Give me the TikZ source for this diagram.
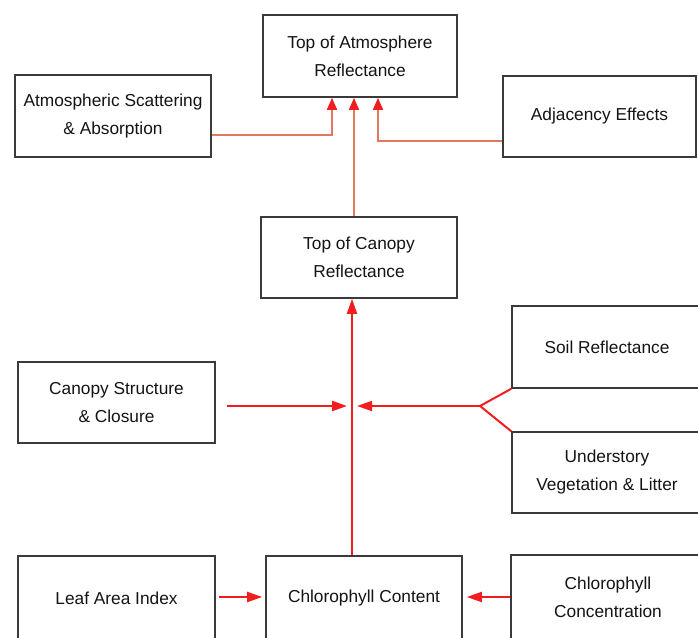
\documentclass[tikz,border=0pt]{standalone}
\usepackage{fontspec}
\setmainfont{Liberation Sans}
\usetikzlibrary{arrows.meta}
\definecolor{boxline}{HTML}{3A3A3A}
\definecolor{salmon}{HTML}{E07A5F}
\definecolor{arrred}{HTML}{F01E1E}
\begin{document}
\begin{tikzpicture}[x=1pt,y=-1pt,
  box/.style={draw=boxline, line width=1.6pt, fill=white, inner sep=0pt,
    minimum width=196pt, minimum height=82pt, align=center,
    font=\fontsize{17.3}{28}\selectfont, text=black!92},
  topconn/.style={draw=salmon, line width=1.5pt,
    -{Triangle[length=12pt,width=10pt,color=arrred,fill=arrred]}},
  redconn/.style={draw=arrred, line width=2pt,
    -{Triangle[length=15pt,width=10pt]}},
  redline/.style={draw=arrred, line width=2pt}]
\useasboundingbox (0,0) rectangle (698,637);
\clip (0,0) rectangle (698,637);
\fill[white] (0,0) rectangle (698,637);

\node[box, minimum width=194pt] (toa) at (360,56) {Top of Atmosphere\\Reflectance};
\node[box] (atm) at (113,116) {Atmospheric Scattering\\\& Absorption};
\node[box, minimum width=193pt, minimum height=81pt] (adj) at (599.5,116.5) {Adjacency Effects};
\node[box, minimum height=81pt] (toc) at (359,257.5) {Top of Canopy\\Reflectance};
\node[box, minimum width=197pt, minimum height=81pt] (can) at (116.5,402.5) {Canopy Structure\\\& Closure};
\node[box, minimum width=190pt] (soil) at (607,347) {Soil Reflectance};
\node[box, minimum width=190pt, minimum height=81pt] (und) at (607,472.5) {Understory\\Vegetation \& Litter};
\node[box, minimum width=197pt, minimum height=84pt] (leaf) at (116.5,598) {Leaf Area Index};
\node[box, minimum height=84pt] (chl) at (364,598) {Chlorophyll Content};
\node[box, minimum width=194pt, minimum height=84pt] (conc) at (608,597) {Chlorophyll\\Concentration};

\coordinate (v1) at (354,0);
\coordinate (cx) at (352,406);
\coordinate (fork) at (480,406);
\coordinate (bl) at (0,597);

% to top of atmosphere
\draw[topconn] ([yshift=-19pt]atm.east) -| ([xshift=-28pt]toa.south);
\draw[topconn] (toc.north -| v1) -- (toa.south -| v1);
\draw[topconn] ([yshift=-24.5pt]adj.west) -| ([xshift=18pt]toa.south);

% lower network
\draw[redconn] (chl.north -| cx) -- (toc.south -| cx);
\draw[redconn, line width=2.6pt] ([xshift=11pt]can.east |- cx) -- ([xshift=-5pt]cx);
\draw[redconn] (fork) -- ([xshift=5pt]cx);
\draw[redline] (soil.south west) -- (fork) -- (und.north west);
\draw[redconn] ([xshift=3pt]leaf.east |- bl) -- ([xshift=-3pt]chl.west |- bl);
\draw[redconn] (conc.west |- bl) -- ([xshift=4pt]chl.east |- bl);
\end{tikzpicture}
\end{document}
